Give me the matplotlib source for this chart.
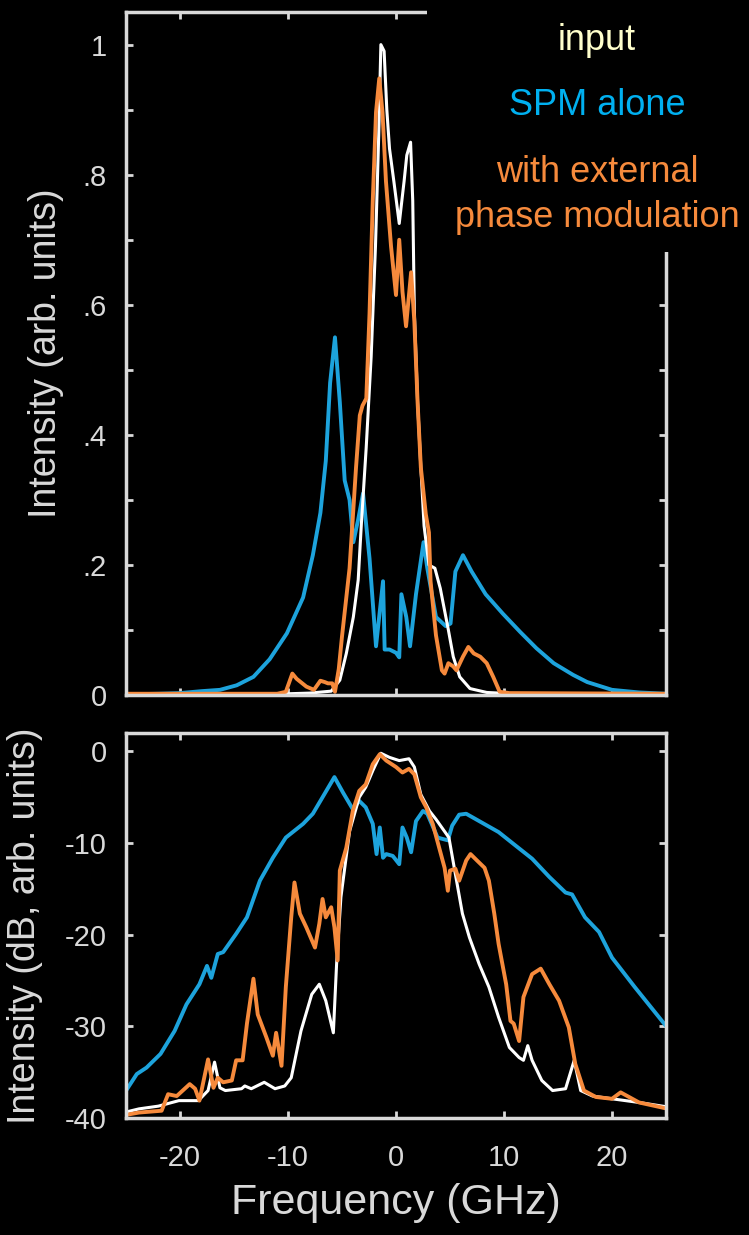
import numpy as np
import matplotlib
matplotlib.use('Agg')
import matplotlib.pyplot as plt
from matplotlib.patches import Rectangle
from matplotlib.ticker import MultipleLocator

plt.rcParams['font.family'] = ['Liberation Sans', 'DejaVu Sans']
plt.rcParams['axes.unicode_minus'] = False

# ---- data (frequency in GHz) ----
# top panel: linear intensity
spm_f = [-25, -22, -20, -18, -16.3, -14.75, -13.2, -11.7, -10.1, -8.6, -7.7, -7.0, -6.5,
         -6.1, -5.65, -5.2, -4.75, -4.3, -3.95, -3.5, -3.05, -2.45, -1.85, -1.2, -1.05,
         -0.6, 0.0, 0.3, 0.5, 0.95, 1.3, 1.85, 2.55, 2.9, 3.7, 4.6, 5.05, 5.5, 6.2, 7.0,
         8.3, 9.9, 11.5, 13.0, 14.6, 16.4, 17.7, 20, 22.5, 25]
spm_lin = [0.001, 0.002, 0.003, 0.006, 0.008, 0.015, 0.028, 0.055, 0.095, 0.15, 0.215, 0.28,
           0.36, 0.48, 0.55, 0.45, 0.33, 0.30, 0.235, 0.27, 0.31, 0.21, 0.075, 0.175, 0.07,
           0.07, 0.065, 0.058, 0.155, 0.12, 0.075, 0.155, 0.235, 0.195, 0.12, 0.106, 0.11,
           0.19, 0.215, 0.19, 0.155, 0.125, 0.097, 0.072, 0.049, 0.031, 0.02, 0.008, 0.004,
           0.002]

inp_f = [-25, -12, -8, -6, -5.2, -4.6, -3.95, -3.5, -3.2, -2.76, -2.3, -1.9, -1.6, -1.4,
         -1.1, -0.85, -0.6, -0.2, 0.3, 0.75, 1.0, 1.35, 1.55, 1.7, 2.0, 2.3, 2.6, 3.05,
         3.6, 4.1, 4.85, 5.3, 5.9, 6.85, 8.4, 12, 25]
inp_lin = [0.0, 0.001, 0.003, 0.006, 0.023, 0.064, 0.12, 0.177, 0.265, 0.38, 0.52, 0.69,
           0.86, 1.0, 0.99, 0.9, 0.84, 0.79, 0.725, 0.79, 0.83, 0.85, 0.76, 0.59, 0.45,
           0.35, 0.26, 0.2, 0.195, 0.164, 0.10, 0.059, 0.028, 0.01, 0.004, 0.001, 0.0]

ext_f = [-25, -11, -10.2, -9.6, -9.2, -8.3, -7.6, -7.0, -6.6, -6.3, -5.9, -5.65, -5.3,
         -5.0, -4.3, -3.7, -3.35, -3.1, -2.75, -2.45, -2.15, -1.85, -1.55, -1.25, -0.93,
         -0.46, 0.0, 0.3, 0.6, 0.93, 1.4, 1.7, 2.0, 2.3, 2.76, 3.05, 3.2, 3.7, 4.25, 4.5,
         4.85, 5.3, 5.6, 6.2, 6.7, 7.2, 7.8, 8.4, 9.0, 9.6, 10.5, 25]
ext_lin = [0.002, 0.002, 0.005, 0.033, 0.025, 0.013, 0.008, 0.022, 0.02, 0.018, 0.018,
           0.005, 0.04, 0.09, 0.195, 0.35, 0.43, 0.445, 0.456, 0.587, 0.76, 0.896, 0.948,
           0.896, 0.79, 0.69, 0.615, 0.70, 0.62, 0.567, 0.65, 0.574, 0.45, 0.35, 0.278,
           0.25, 0.175, 0.092, 0.038, 0.033, 0.049, 0.044, 0.038, 0.059, 0.074, 0.064,
           0.059, 0.049, 0.028, 0.005, 0.003, 0.002]

# bottom panel: intensity in dB
spm_f_db = [-25.1, -24, -23.1, -21.8, -20.5, -19.4, -18.2, -17.5, -17.1, -16.5, -16.0,
            -14.8, -13.8, -12.6, -11.4, -10.2, -8.6, -7.7, -6.8, -5.7, -4.9, -4.3, -4.0,
            -3.4, -2.8, -2.15, -1.8, -1.5, -1.2, -0.9, -0.3, 0.3, 0.6, 1.0, 1.4, 1.85, 2.5,
            2.9, 3.85, 4.8, 5.2, 5.85, 6.5, 7.7, 9.5, 11.1, 12.6, 14.2, 15.7, 16.3, 17.5,
            18.8, 20.0, 22.1, 25.1]
spm_db = [-37.2, -35.2, -34.5, -33.0, -30.5, -27.6, -25.4, -23.4, -24.7, -22.1, -21.9,
          -19.9, -18.1, -14.1, -11.6, -9.4, -7.9, -6.8, -5.0, -2.8, -4.5, -5.7, -6.3, -5.4,
          -6.1, -7.9, -11.2, -8.3, -11.6, -11.2, -11.4, -12.3, -8.3, -9.4, -11.0, -7.6,
          -6.5, -6.8, -9.4, -9.7, -8.1, -6.9, -6.8, -7.6, -8.8, -10.3, -11.7, -13.7, -15.4,
          -15.6, -18.1, -19.7, -22.5, -25.7, -30.1]

inp_f_db = [-25.2, -23.8, -22, -20.1, -18.3, -17.4, -16.8, -16.3, -15.8, -14.3, -14.0,
            -13.4, -12.2, -11.2, -10.3, -9.7, -8.8, -7.8, -7.1, -6.5, -5.8, -5.5, -5.1,
            -4.3, -3.4, -2.8, -2.15, -1.4, -0.6, 0.3, 1.2, 1.7, 2.3, 3.1, 3.7, 4.9, 5.5,
            6.15, 6.8, 7.7, 8.6, 9.5, 10.5, 11.4, 11.8, 12.2, 12.6, 13.5, 14.5, 15.7, 16.5,
            17.1, 18.2, 20, 22.5, 25.2]
inp_db = [-39.4, -39.0, -38.7, -38.1, -38.1, -37.0, -33.9, -36.7, -37.0, -36.8, -36.5,
          -36.8, -36.1, -36.8, -36.5, -35.6, -30.5, -26.5, -25.4, -27.2, -30.7, -23.2,
          -15.9, -8.7, -5.0, -3.9, -2.1, -0.2, -0.65, -1.0, -0.8, -1.7, -4.7, -6.5, -7.4,
          -9.4, -13.4, -17.7, -20.3, -23.2, -25.7, -29.0, -32.3, -33.4, -33.7, -32.1,
          -33.7, -35.9, -37.0, -36.8, -33.7, -37.0, -37.6, -37.9, -38.3, -38.8]

ext_f_db = [-25.2, -23.8, -21.7, -21.1, -20.3, -19.1, -18.6, -18.2, -17.4, -16.9, -16.5,
            -16.0, -15.2, -14.8, -14.2, -13.8, -13.2, -12.8, -12.0, -11.4, -11.1, -10.6,
            -10.2, -9.7, -9.4, -8.9, -8.3, -7.5, -7.1, -6.8, -6.5, -6.0, -5.7, -5.4, -5.2,
            -4.6, -4.0, -3.4, -2.8, -2.15, -1.5, -0.9, 0.0, 0.6, 1.2, 1.7, 2.3, 2.8, 3.4,
            4.5, 4.8, 5.0, 5.5, 5.85, 6.5, 6.9, 7.5, 8.2, 8.6, 9.1, 9.5, 10.2, 10.6, 10.9,
            11.4, 11.8, 12.6, 13.4, 14.2, 15.1, 16.0, 16.6, 17.4, 18.5, 20, 20.8, 22.5, 25.2]
ext_db = [-39.7, -39.4, -39.2, -37.4, -37.6, -36.3, -36.8, -38.1, -33.6, -36.7, -35.6,
          -36.1, -35.9, -33.7, -33.7, -29.7, -24.8, -28.7, -31.2, -33.2, -30.7, -34.3,
          -25.7, -18.1, -14.3, -17.7, -19.2, -21.4, -18.8, -16.1, -18.1, -17.0, -19.2,
          -22.8, -13.0, -10.5, -6.5, -4.3, -3.6, -1.4, -0.3, -1.0, -1.7, -2.3, -1.9, -2.5,
          -5.0, -6.1, -7.9, -12.7, -15.2, -13.0, -12.8, -14.1, -11.9, -11.2, -11.9, -12.7,
          -14.1, -17.7, -21.0, -25.4, -29.4, -29.7, -31.6, -26.8, -24.3, -23.7, -25.4,
          -27.2, -30.1, -34.1, -37.0, -37.7, -37.9, -37.2, -38.3, -39.0]

WHITE = '#ffffff'
BLUE = '#1da3dc'
ORANGE = '#f68a3c'
GREY = '#d9d9d9'

fig = plt.figure(figsize=(7.49, 12.35), dpi=100, facecolor='black')
ax1 = fig.add_axes([0.1682, 0.4372, 0.7210, 0.5530])
ax2 = fig.add_axes([0.1682, 0.0947, 0.7210, 0.3117])

for ax in (ax1, ax2):
    ax.set_facecolor('black')
    for sp in ax.spines.values():
        sp.set_color(GREY)
        sp.set_linewidth(2.5)
    ax.tick_params(which='both', direction='in', length=5, width=2, color=GREY,
                   top=True, right=True, labelcolor=GREY, labelsize=21)
    ax.set_xlim(-25, 25)
    ax.set_xticks([-20, -10, 0, 10, 20])

ax1.plot(spm_f, spm_lin, color=BLUE, lw=2.8)
ax1.plot(inp_f, inp_lin, color=WHITE, lw=2.2)
ax1.plot(ext_f, ext_lin, color=ORANGE, lw=2.8)
ax1.set_ylim(0, 1.05)
ax1.set_yticks([0, 0.2, 0.4, 0.6, 0.8, 1.0])
ax1.set_yticklabels(['0', '.2', '.4', '.6', '.8', '1'])
ax1.yaxis.set_minor_locator(MultipleLocator(0.1))
ax1.tick_params(axis='x', labelbottom=False)
ax1.tick_params(axis='y', pad=14)
ax1.set_ylabel('Intensity (arb. units)', color=GREY, fontsize=27, va='center')
ax1.yaxis.set_label_coords(-0.148, 0.5)

ax2.plot(spm_f_db, spm_db, color=BLUE, lw=2.8)
ax2.plot(inp_f_db, inp_db, color=WHITE, lw=2.2)
ax2.plot(ext_f_db, ext_db, color=ORANGE, lw=2.8)
ax2.set_ylim(-40, 2)
ax2.set_yticks([0, -10, -20, -30, -40])
ax2.tick_params(axis='y', pad=14)
ax2.tick_params(axis='x', pad=19)
ax2.set_ylabel('Intensity (dB, arb. units)', color=GREY, fontsize=27, va='center')
ax2.yaxis.set_label_coords(-0.187, 0.5)
ax2.set_xlabel('Frequency (GHz)', color=GREY, fontsize=31, va='top')
ax2.xaxis.set_label_coords(0.5, -0.17)

# black panel behind the labels in the upper right corner
fig.patches.append(Rectangle((0.570, 0.796), 0.5, 0.3, transform=fig.transFigure,
                             facecolor='black', edgecolor='none', zorder=5))
fig.text(0.797, 0.9676, 'input', color='#ffffcc', fontsize=26, ha='center', va='center', zorder=6)
fig.text(0.797, 0.9142, 'SPM alone', color='#00b0f0', fontsize=26, ha='center', va='center', zorder=6)
fig.text(0.797, 0.8600, 'with external', color=ORANGE, fontsize=26, ha='center', va='center', zorder=6)
fig.text(0.797, 0.8240, 'phase modulation', color=ORANGE, fontsize=26, ha='center', va='center', zorder=6)

fig.savefig('out.png', dpi=100, facecolor='black')
